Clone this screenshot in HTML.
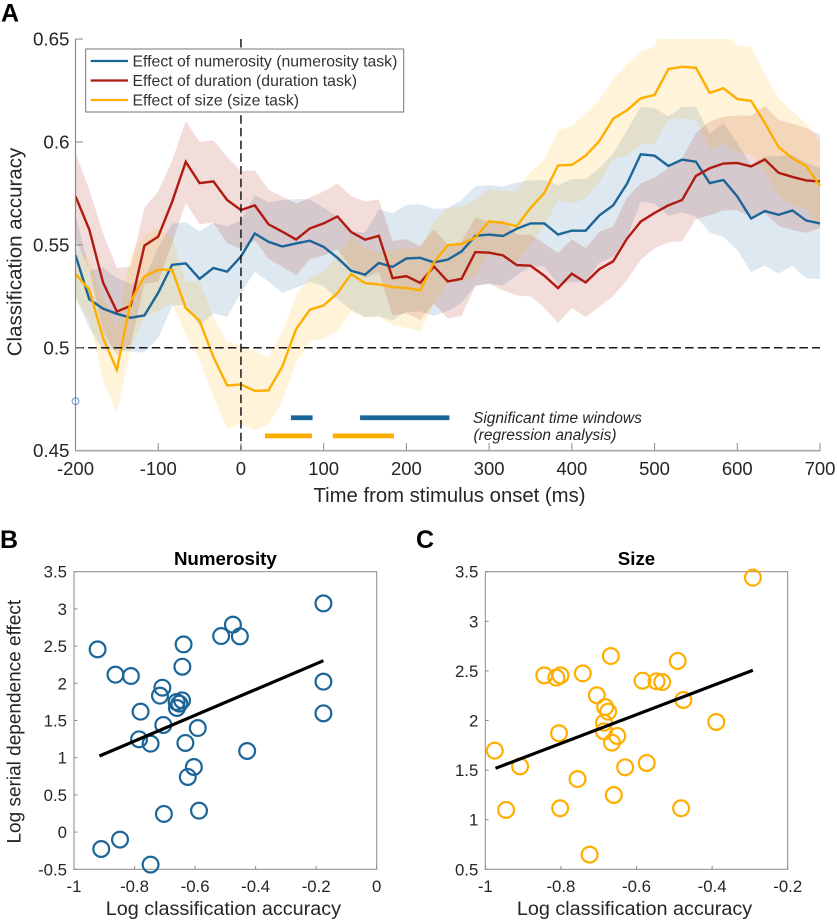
<!DOCTYPE html>
<html lang="en">
<head>
<meta charset="utf-8">
<title>Classification accuracy figure</title>
<style>
html,body{margin:0;padding:0;background:#fff;width:837px;height:921px;overflow:hidden}
svg{display:block;font-family:"Liberation Sans",Arial,sans-serif}
text{fill:#262626}
</style>
</head>
<body>
<svg id="fig" xmlns="http://www.w3.org/2000/svg" width="837" height="921" viewBox="0 0 837 921">
  <defs>
    <clipPath id="clipA"><rect x="75.5" y="39" width="745" height="412"></rect></clipPath>
  </defs>
  <rect x="0" y="0" width="837" height="921" fill="#fff"></rect>
  <text x="1" y="21.5" font-size="25" font-weight="bold" style="fill:#000">A</text>
  <text x="0" y="548" font-size="25" font-weight="bold" style="fill:#000">B</text>
  <text x="416" y="548" font-size="25" font-weight="bold" style="fill:#000">C</text>
  <g id="panelA"></g>
  <g id="panelB"></g>
  <g id="panelC"></g>
</svg>
<script>
// ---------- Panel A data ----------
const timeMs = [-200,-183.3,-166.7,-150,-133.3,-116.7,-100,-83.3,-66.7,-50,-33.3,-16.7,0,16.7,33.3,50,66.7,83.3,100,116.7,133.3,150,166.7,183.3,200,216.7,233.3,250,266.7,283.3,300,316.7,333.3,350,366.7,383.3,400,416.7,433.3,450,466.7,483.3,500,516.7,533.3,550,566.7,583.3,600,616.7,633.3,650,666.7,683.3,700];
const numerosityMean = [.545,.5236,.519,.5165,.5146,.5157,.5267,.5403,.541,.5335,
  .5388,.537,.5443,.5555,.5515,.5492,.5507,.552,.549,.5437,
  .5374,.5355,.5412,.5393,.5434,.5437,.5415,.5428,.5468,.5544,
  .555,.5543,.5578,.5604,.5604,.555,.5569,.5569,.5643,.5692,
  .5797,.594,.5933,.5883,.5914,.5904,.58,.5815,.5735,.5628,
  .5664,.5646,.5667,.5618,.5604];
const numerositySem = [.02,.014,.02,.0175,.0165,.018,.022,.02,.02,.023,
  .022,.022,.0176,.0186,.0193,.0225,.0216,.02,.019,.02,
  .019,.0206,.026,.026,.026,.026,.026,.025,.025,.024,
  .024,.024,.0225,.021,.021,.024,.025,.025,.023,.025,
  .026,.023,.0232,.0241,.0256,.0266,.024,.0277,.026,.026,
  .0265,.0285,.027,.028,.027];
const durationMean = [.5736,.5574,.5317,.5176,.5204,.5496,.554,.5708,.5903,.58,
  .5808,.5718,.5669,.5692,.56,.5564,.5526,.558,.5604,.5638,
  .5562,.5525,.5544,.5338,.5348,.5315,.5395,.5322,.5335,.5465,
  .5462,.5449,.5402,.5399,.535,.529,.536,.5317,.5382,.542,
  .553,.5613,.5655,.5692,.5718,.5835,.5872,.5895,.5898,.5881,
  .5915,.585,.583,.5813,.5808];
const durationSem = [.021,.0194,.024,.0212,.019,.0184,.022,.02,.02,.02,
  .02,.021,.019,.017,.0168,.017,.0175,.015,.0156,.016,
  .0174,.0186,.0176,.018,.018,.018,.018,.018,.018,.0167,
  .015,.017,.0148,.015,.0156,.017,.0166,.0168,.0182,.017,
  .02,.0185,.0173,.018,.02,.021,.0228,.0227,.023,.0246,
  .026,.0258,.0258,.0254,.0227];
const sizeMean = [.5358,.5282,.5047,.4893,.5225,.5347,.5379,.5379,.5193,.5131,
  .4955,.4817,.4822,.4791,.4793,.4909,.5091,.5185,.5206,.5266,
  .5358,.5314,.5308,.5295,.529,.5279,.5415,.5499,.5504,.5536,
  .5614,.5607,.559,.5679,.5752,.5886,.5888,.5933,.6004,.6113,
  .6154,.6212,.6228,.6354,.6365,.636,.6238,.6261,.6208,.62,
  .6092,.5975,.592,.5884,.5787];
const sizeSem = [.0125,.015,.02,.0209,.0225,.02,.02,.016,.013,.019,
  .0192,.021,.019,.0193,.0163,.0167,.0164,.0155,.0162,.0186,
  .0182,.0167,.0156,.0183,.0193,.02,.02,.018,.0183,.0183,
  .0154,.0155,.017,.0175,.0162,.017,.0188,.0207,.02,.0194,
  .0222,.0225,.0236,.0245,.025,.0255,.0275,.027,.026,.026,
  .0235,.0238,.0228,.0207,.0207];
const sigNumerosityStart = [60.4,144];
const sigNumerosityEnd = [86.6,252];
const sigSizeStart = [29,111];
const sigSizeEnd = [86,185];
const timeTicks = [-200,-100,0,100,200,300,400,500,600,700];
const accuracyTicks = [0.45,0.5,0.55,0.6,0.65];
const accuracyTickLabels = ["0.45","0.5","0.55","0.6","0.65"];
const legendLabels = ["Effect of numerosity (numerosity task)","Effect of duration (duration task)","Effect of size (size task)"];
// ---------- Panel B data ----------
const numerosityX = [-.922,-.863,-.812,-.708,-.716,-.78,-.785,-.747,-.705,-.661,-.643,-.652,-.66,-.642,-.638,-.514,-.475,-.452,-.176,-.176,-.176,-.591,-.632,-.428,-.604,-.624,-.587,-.703,-.848,-.91,-.747];
const numerosityY = [2.456,2.116,2.098,1.941,1.834,1.619,1.247,1.189,1.44,1.749,1.771,1.726,1.668,2.223,2.523,2.635,2.788,2.631,3.074,2.022,1.596,1.399,1.198,1.09,.875,.741,.288,.244,-.101,-.227,-.437];
const numerosityFitX = [-.916,-.176];
const numerosityFitY = [1.023,2.304];
const numerosityXTicks = [-1,-.8,-.6,-.4,-.2,0];
const numerosityXTickLabels = ["-1","-0.8","-0.6","-0.4","-0.2","0"];
const numerosityYTicks = [-.5,0,.5,1,1.5,2,2.5,3,3.5];
const numerosityYTickLabels = ["-0.5","0","0.5","1","1.5","2","2.5","3","3.5"];
// ---------- Panel C data ----------
const sizeX = [-.975,-.908,-.945,-.844,-.812,-.801,-.805,-.802,-.756,-.724,-.742,-.705,-.683,-.675,-.686,-.686,-.651,-.665,-.668,-.63,-.66,-.584,-.573,-.547,-.532,-.491,-.476,-.482,-.389,-.292];
const sizeY = [1.696,1.538,1.098,2.455,2.432,2.455,1.871,1.115,1.41,.648,2.475,2.254,2.136,2.089,1.978,1.891,1.844,1.777,2.65,1.528,1.249,2.401,1.572,2.395,2.388,2.6,2.207,1.115,1.985,3.44];
const sizeFitX = [-.973,-.292];
const sizeFitY = [1.518,2.506];
const sizeXTicks = [-1,-.8,-.6,-.4,-.2];
const sizeXTickLabels = ["-1","-0.8","-0.6","-0.4","-0.2"];
const sizeYTicks = [.5,1,1.5,2,2.5,3,3.5];
const sizeYTickLabels = ["0.5","1","1.5","2","2.5","3","3.5"];

// ---------- Drawing ----------
const NS = "http://www.w3.org/2000/svg";
const BLUE = "#1b6598", RED = "#b01a10", YELLOW = "#ffae00", AXIS = "#8a8a8a";
function mk(parent, tag, attrs, txt) {
  const el = document.createElementNS(NS, tag);
  for (const k in attrs) el.setAttribute(k, attrs[k]);
  if (txt !== undefined) el.textContent = txt;
  parent.appendChild(el);
  return el;
}
function scale(d0, d1, r0, r1) { return v => r0 + (v - d0) * (r1 - r0) / (d1 - d0); }

// Panel A
(function () {
  const g = document.getElementById("panelA");
  const X = scale(-200, 700, 75.5, 820);
  const Y = scale(0.45, 0.65, 450.7, 39);
  const clip = mk(g, "g", { "clip-path": "url(#clipA)" });
  
  

  function band(mean, sem, color, name) {
    let up = [], lo = [];
    mean.forEach((m, i) => {
      up.push(X(timeMs[i]).toFixed(2) + "," + Y(m + sem[i]).toFixed(2));
      lo.unshift(X(timeMs[i]).toFixed(2) + "," + Y(m - sem[i]).toFixed(2));
    });
    const p = mk(clip, "polygon", { points: up.concat(lo).join(" "), fill: color, "fill-opacity": 0.15 });
    
    
  }
  band(numerosityMean, numerositySem, BLUE, "numerosity-error-band");
  band(durationMean, durationSem, RED, "duration-error-band");
  band(sizeMean, sizeSem, YELLOW, "size-error-band");

  const hRef = mk(g, "line", { x1: X(-200), x2: X(700), y1: Y(0.5), y2: Y(0.5), stroke: "#1a1a1a", "stroke-width": 1.5, "stroke-dasharray": "8.5 4.2" });
  
  
  const vRef = mk(g, "line", { x1: X(0), x2: X(0), y1: Y(0.65), y2: Y(0.45), stroke: "#1a1a1a", "stroke-width": 1.5, "stroke-dasharray": "8.5 4.2" });
  
  

  function line(mean, color, name) {
    const pts = mean.map((m, i) => X(timeMs[i]).toFixed(2) + "," + Y(m).toFixed(2)).join(" ");
    const p = mk(clip, "polyline", { points: pts, fill: "none", stroke: color, "stroke-width": 2.4, "stroke-linejoin": "miter" });
    
    
  }
  line(numerosityMean, BLUE, "numerosity-line");
  line(durationMean, RED, "duration-line");
  line(sizeMean, YELLOW, "size-line");

  // axes
  const yAxis = mk(g, "line", { x1: 75.5, x2: 75.5, y1: 39, y2: 451, stroke: AXIS, "stroke-width": 1.2 });
  
  
  const xAxis = mk(g, "line", { x1: 75, x2: 820.5, y1: 450.7, y2: 450.7, stroke: "#a8a8a8", "stroke-width": 1.6 });
  
  
  timeTicks.forEach(t => {
    if (t !== -200) {
      const tk = mk(g, "line", { x1: X(t), x2: X(t), y1: 450.7, y2: 443, stroke: AXIS, "stroke-width": 1 });
      
      
    }
    const lb = mk(g, "text", { x: X(t), y: 475, "font-size": 18.5, "text-anchor": "middle" }, String(t));
    
    
  });
  accuracyTicks.forEach((v, i) => {
    if (v !== 0.45) {
      const tk = mk(g, "line", { x1: 75.5, x2: 83, y1: Y(v), y2: Y(v), stroke: AXIS, "stroke-width": 1 });
      
      
    }
    const lb = mk(g, "text", { x: 69.5, y: Y(v) + 6.5, "font-size": 18.8, "text-anchor": "end" }, accuracyTickLabels[i]);
    
    
  });
  const xt = mk(g, "text", { x: 449.5, y: 502, "font-size": 20.3, "text-anchor": "middle" }, "Time from stimulus onset (ms)");
  
  
  const yt = mk(g, "text", { x: 0, y: 0, "font-size": 20.5, "text-anchor": "middle", transform: "translate(21.5,252) rotate(-90)" }, "Classification accuracy");
  
  

  const stray = mk(g, "circle", { cx: X(-200), cy: Y(0.474), r: 3.4, fill: "none", stroke: "#5b8fc8", "stroke-width": 1 });
  
  

  // significance bars
  sigNumerosityStart.forEach((s, i) => {
    const r = mk(g, "rect", { x: X(s), y: Y(0.466) - 2.4, width: X(sigNumerosityEnd[i]) - X(s), height: 4.8, fill: BLUE });
    
    
  });
  sigSizeStart.forEach((s, i) => {
    const r = mk(g, "rect", { x: X(s), y: Y(0.4572) - 2.4, width: X(sigSizeEnd[i]) - X(s), height: 4.8, fill: YELLOW });
    
    
  });
  const s1 = mk(g, "text", { x: 473, y: 423, "font-size": 15.5, "font-style": "italic" }, "Significant time windows");
  
  
  const s2 = mk(g, "text", { x: 473.5, y: 440, "font-size": 15.5, "font-style": "italic" }, "(regression analysis)");
  
  

  // legend
  const lg = mk(g, "g", {});
  
  
  const box = mk(lg, "rect", { x: 85.7, y: 49, width: 318, height: 63, fill: "#fff", stroke: "#777", "stroke-width": 1 });
  
  
  const colors = [BLUE, RED, YELLOW];
  legendLabels.forEach((t, i) => {
    const ly = 61 + i * 19.5;
    const l = mk(lg, "line", { x1: 90.7, x2: 128, y1: ly, y2: ly, stroke: colors[i], "stroke-width": 2.2 });
    
    
    const tx = mk(lg, "text", { x: 132.5, y: ly + 5.5, "font-size": 15.8, style: "fill:#333" }, t);
    
    
  });
})();

// Scatter panels
function scatter(gid, cfg) {
  const g = document.getElementById(gid);
  const X = scale(cfg.xDom[0], cfg.xDom[1], cfg.left, cfg.right);
  const Y = scale(cfg.yDom[0], cfg.yDom[1], 869.3, 571.7);
  const frame = mk(g, "rect", { x: cfg.left, y: 571.7, width: cfg.right - cfg.left, height: 297.6, fill: "none", stroke: AXIS, "stroke-width": 1 });
  
  
  cfg.xTicks.forEach((v, i) => {
    const tk = mk(g, "line", { x1: X(v), x2: X(v), y1: 869.3, y2: 866, stroke: AXIS, "stroke-width": 1 });
    
    
    const lb = mk(g, "text", { x: X(v), y: 892, "font-size": 16.8, "text-anchor": "middle" }, cfg.xLabels[i]);
    
    
  });
  cfg.yTicks.forEach((v, i) => {
    const tk = mk(g, "line", { x1: cfg.left, x2: cfg.left + 3.3, y1: Y(v), y2: Y(v), stroke: AXIS, "stroke-width": 1 });
    
    
    const lb = mk(g, "text", { x: cfg.left - 7, y: Y(v) + 6, "font-size": 16.8, "text-anchor": "end" }, cfg.yLabels[i]);
    
    
  });
  cfg.xs.forEach((x, i) => {
    const c = mk(g, "circle", { cx: X(x), cy: Y(cfg.ys[i]), r: 7.9, fill: "none", stroke: cfg.color, "stroke-width": 2.2 });
    
    
  });
  const fit = mk(g, "line", { x1: X(cfg.fitX[0]), y1: Y(cfg.fitY[0]), x2: X(cfg.fitX[1]), y2: Y(cfg.fitY[1]), stroke: "#000", "stroke-width": 3.2 });
  
  
  const title = mk(g, "text", { x: (cfg.left + cfg.right) / 2, y: 565, "font-size": 18.7, "font-weight": "bold", "text-anchor": "middle", style: "fill:#000" }, cfg.title);
  
  
  const xt = mk(g, "text", { x: (cfg.left + cfg.right) / 2 - 2, y: 915, "font-size": 19.8, "text-anchor": "middle" }, "Log classification accuracy");
  
  
}
scatter("panelB", {
  left: 74, right: 376.7, xDom: [-1, 0], yDom: [-.5, 3.5], color: BLUE, title: "Numerosity",
  xTicks: numerosityXTicks, xLabels: numerosityXTickLabels, yTicks: numerosityYTicks, yLabels: numerosityYTickLabels,
  xs: numerosityX, ys: numerosityY, fitX: numerosityFitX, fitY: numerosityFitY
});
scatter("panelC", {
  left: 485.3, right: 787.7, xDom: [-1, -.2], yDom: [.5, 3.5], color: YELLOW, title: "Size",
  xTicks: sizeXTicks, xLabels: sizeXTickLabels, yTicks: sizeYTicks, yLabels: sizeYTickLabels,
  xs: sizeX, ys: sizeY, fitX: sizeFitX, fitY: sizeFitY
});
const bTitle = mk(document.getElementById("panelB"), "text", { "font-size": 19, "text-anchor": "middle", transform: "translate(20.7,721.7) rotate(-90)" }, "Log serial dependence effect");


</script>
</body>
</html>
